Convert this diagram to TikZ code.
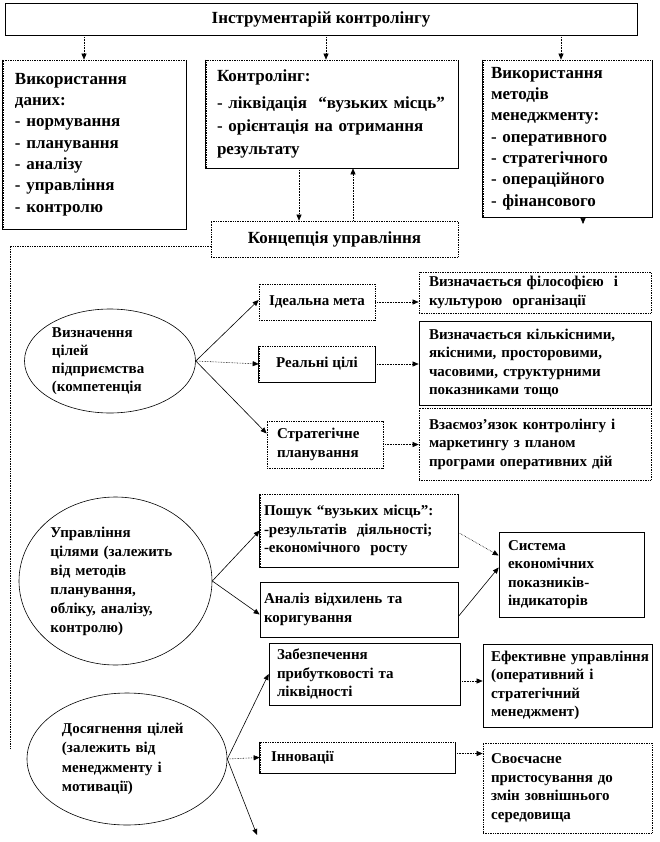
\documentclass[tikz,border=0pt]{standalone}
\usepackage{fontspec}
\setmainfont{Liberation Serif}
\usetikzlibrary{arrows.meta,shapes.geometric}
\begin{document}
\begin{tikzpicture}[x=1bp,y=-1bp,
  bx/.style={draw, line width=0.7bp, rectangle, inner sep=0pt, align=left},
  dbx/.style={bx, densely dotted},
  big/.style={font=\fontsize{17bp}{21.3bp}\selectfont\bfseries},
  sml/.style={font=\fontsize{15bp}{18.5bp}\selectfont\bfseries},
  ell/.style={draw, ellipse, line width=0.6bp, inner sep=0pt, align=left,
              font=\fontsize{15bp}{19bp}\selectfont\bfseries},
  arr/.style={-{Triangle[length=6bp,width=5bp]}, line width=0.6bp},
  darr/.style={arr, densely dotted},
  edge3/.style={line width=0.7bp}
]
\useasboundingbox (0,0) rectangle (660,842);

% ---------- top part ----------
\node[bx, big, align=center, minimum width=632bp, minimum height=32bp] (title) at (321,19)
  {Інструментарій контролінгу};

\node[dbx, big, minimum width=183bp, minimum height=169bp, text width=159bp] (usedata) at (94.5,144.5)
  {Використання\\даних:\\- нормування\\- планування\\- аналізу\\- управління\\- контролю};

\node[dbx, font=\fontsize{17bp}{23bp}\selectfont\bfseries, minimum width=252bp, minimum height=108bp, text width=230bp] (ctrl) at (332,114)
  {Контролінг:\\[4bp]- ліквідація~~“вузьких~місць”\\- орієнтація~на~отримання\\результату};

\node[dbx, big, minimum width=169bp, minimum height=157bp, text width=153bp] (methods) at (567.5,138.5)
  {Використання\\методів\\менеджменту:\\- оперативного\\- стратегічного\\- операційного\\- фінансового};

\node[dbx, big, align=center, minimum width=247bp, minimum height=36bp] (conc) at (334.5,239)
  {Концепція управління};

% ---------- section 1 ----------
\node[ell, minimum width=171bp, minimum height=104bp, text width=116bp,
      font=\fontsize{15bp}{18bp}\selectfont\bfseries] (e1) at (110,361)
  {Визначення\\цілей\\підприємства\\(компетенція};

\node[dbx, sml, align=center, minimum width=116bp, minimum height=36bp] (ideal) at (317,302) {Ідеальна мета};
\node[dbx, sml, align=center, minimum width=116bp, minimum height=36bp] (real) at (317,364) {Реальні цілі};
\node[dbx, sml, minimum width=116bp, minimum height=47bp, text width=96bp] (strat) at (325,444.5)
  {Стратегічне\\планування};

\node[dbx, sml, minimum width=232bp, minimum height=41bp, text width=212bp] (phil) at (535,292.5)
  {Визначається~філософією~~і\\культурою~~організації};
\node[bx, sml, minimum width=232bp, minimum height=84bp, text width=212bp] (quant) at (535,363)
  {Визначається~кількісними,\\якісними,~просторовими,\\часовими,~структурними\\показниками~тощо};
\node[dbx, sml, minimum width=232bp, minimum height=72bp, text width=212bp] (link) at (535,444)
  {Взаємоз’язок~контролінгу~і\\маркетингу~з~планом\\програми~оперативних~дій};

% ---------- section 2 ----------
\node[ell, minimum width=193bp, minimum height=168bp, text width=130bp] (e2) at (115.5,581)
  {Управління\\цілями~(залежить\\від методів\\планування,\\обліку,~аналізу,\\контролю)};

\node[dbx, sml, minimum width=198bp, minimum height=73bp, text width=190bp] (search) at (359,530.5)
  {Пошук~“вузьких~місць”:\\-результатів~~діяльності;\\-економічного~~росту};
\node[bx, sml, minimum width=198bp, minimum height=55bp, text width=190bp] (anal) at (359,609.5)
  {Аналіз~відхилень~та\\коригування};
\node[bx, sml, minimum width=145bp, minimum height=85bp, text width=127bp] (sys) at (571.5,574.5)
  {Система\\економічних\\показників-\\індикаторів};

% ---------- section 3 ----------
\node[ell, minimum width=200bp, minimum height=132bp, text width=130bp,
      font=\fontsize{15bp}{19.5bp}\selectfont\bfseries] (e3) at (127,759)
  {Досягнення~цілей\\(залежить~від\\менеджменту~і\\мотивації)};

\node[bx, sml, minimum width=191bp, minimum height=62bp, text width=175bp] (profit) at (364.5,674)
  {Забезпечення\\прибутковості~та\\ліквідності};
\node[bx, sml, minimum width=169bp, minimum height=83bp, text width=153bp] (eff) at (567.5,685.5)
  {Ефективне~управління\\(оперативний~і\\стратегічний\\менеджмент)};
\node[dbx, sml, minimum width=195bp, minimum height=31bp, text width=173bp] (innov) at (357.5,757.5)
  {Інновації};
\node[dbx, sml, minimum width=169bp, minimum height=90bp, text width=153bp] (timely) at (567.5,788)
  {Своєчасне\\пристосування~до\\змін~зовнішнього\\середовища};

% solid left, bottom and right edges of boxes whose top edge is dotted
\foreach \n in {usedata,ctrl,methods,real,search,innov}
  \draw[edge3] (\n.north west) -- (\n.south west) -- (\n.south east) -- (\n.north east);

% ---------- connectors ----------
\draw[darr] ([xshift=-10.5bp]usedata.north |- title.south) -- ([xshift=-10.5bp]usedata.north);
\draw[darr] ([xshift=-6bp]ctrl.north |- title.south) -- ([xshift=-6bp]ctrl.north);
\draw[darr] ([xshift=-6.5bp]methods.north |- title.south) -- ([xshift=-6.5bp]methods.north);

\coordinate (mtip) at (583,224);
\draw[arr] ([xshift=15.5bp]methods.south) -- (mtip);

\draw[darr] ([xshift=-33bp]ctrl.south) -- ([xshift=-33bp]ctrl.south |- conc.north);
\draw[darr] ([xshift=21bp]ctrl.south |- conc.north) -- ([xshift=21bp]ctrl.south);

\coordinate (lend) at (10,749);
\draw[densely dotted, line width=0.7bp] ([yshift=-7bp]conc.west) -| (lend);

% section 1
\draw[arr] (e1.east) -- ([yshift=2bp]ideal.west);
\draw[darr] (e1.east) -- (real.west);
\draw[arr] (e1.east) -- ([yshift=11bp]strat.west);
\draw[darr] (ideal.east) -- (ideal.east -| phil.west);
\draw[darr] (real.east) -- (real.east -| quant.west);
\draw[darr] (strat.east) -- (strat.east -| link.west);

% section 2
\draw[arr] (e2.east) -- (search.west);
\draw[arr] (e2.east) -- ([yshift=-5bp]anal.west);
\draw[darr] ([yshift=-2bp]search.east) -- ([yshift=19bp]sys.west);
\draw[arr] ([yshift=-7bp]anal.east) -- ([yshift=7bp]sys.west);

% section 3
\coordinate (e3end) at (257,835);
\draw[arr] (e3.east) -- (profit.west);
\draw[darr] (e3.east) -- (innov.west);
\draw[arr] (e3.east) -- (e3end);
\draw[darr] ([yshift=-7bp]profit.east) -- ([yshift=-7bp]profit.east -| eff.west);
\draw[darr] ([yshift=4bp]innov.east) -- ([yshift=4bp]innov.east -| timely.west);
\end{tikzpicture}
\end{document}
